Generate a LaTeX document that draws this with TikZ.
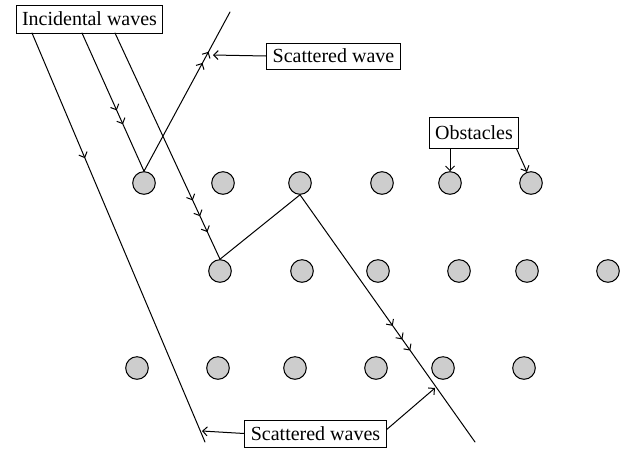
\documentclass[tikz,border=0pt]{standalone}
\usepackage{fontspec}
\setmainfont{Liberation Serif}
\usetikzlibrary{arrows.meta,decorations.markings}

\tikzset{
  barb/.tip={Straight Barb[length=4.5pt,width=9pt,line width=1pt]},
  obst/.style={circle,draw,line width=1pt,fill={rgb,255:red,205;green,205;blue,205},minimum size=22.6pt,inner sep=0pt},
  label box/.style={draw,line width=1pt,inner xsep=6pt,minimum height=28pt,font=\fontsize{20}{24}\selectfont},
  ray/.style={line width=1pt},
  flow/.style={postaction={decorate,decoration={markings,mark=at position #1 with {\arrow{barb}}}}}
}

\begin{document}
\begin{tikzpicture}[x=1pt,y=-1pt,>=barb,line cap=round]
\useasboundingbox (0,0) rectangle (629,448);
% obstacles
\foreach \x [count=\i] in {144,223,300,382,450,531}
  \node[obst] (a\i) at (\x,183) {};
\foreach \x [count=\i] in {220,302,378,459,527,608}
  \node[obst] (b\i) at (\x,271) {};
\foreach \x [count=\i] in {137,218,295,376,443,524}
  \node[obst] (c\i) at (\x,368) {};
% labels
\node[label box] (inc) at (89.5,19) {Incidental waves};
\node[label box,minimum height=26pt] (sw) at (333.5,56) {Scattered wave};
\node[label box,minimum height=31pt] (obs) at (474,132.5) {Obstacles};
\node[label box,minimum height=27pt] (sws) at (315.5,433.5) {Scattered waves};
% free ends
\coordinate (i1) at (32,33);
\coordinate (i2) at (82,33);
\coordinate (i3) at (115,33);
\coordinate (e1) at (205,442);
\coordinate (e2) at (230,12);
\coordinate (e3) at (475,442);
\coordinate (swtip) at (213,55);
\coordinate (lt) at (202,431);
\coordinate (rt) at (435,388);
% waves
\draw[ray,flow=0.306] (i1) -- (e1);
\draw[ray,flow=0.56,flow=0.66] (i2) -- (a1.north);
\draw[ray,flow=0.74,flow=0.81,flow=0.88] (i3) -- (b1.north);
\draw[ray,flow=0.68,flow=0.75] (a1.north) -- (e2);
\draw[ray] (b1.north) -- (a3.south);
\draw[ray,flow=0.53,flow=0.585,flow=0.63] (a3.south) -- (e3);
% pointers
\draw[ray,->] (sw.west) -- (swtip);
\draw[ray,->] (obs.south -| a5) -- (a5.north);
\draw[ray,->] ([xshift=-3pt]obs.south east) -- (a6.110);
\draw[ray,->] (sws.west) -- (lt);
\draw[ray,->] ([yshift=4pt]sws.east) -- (rt);
\end{tikzpicture}
\end{document}
